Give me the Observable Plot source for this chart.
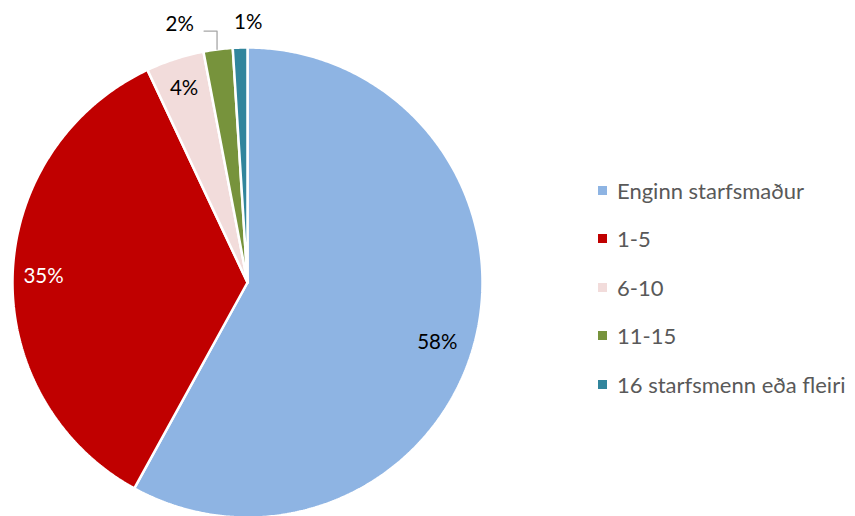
<!DOCTYPE html>
<html>
<head>
<meta charset="utf-8">
<script src="https://cdn.jsdelivr.net/npm/d3@7"></script>
<script src="https://cdn.jsdelivr.net/npm/@observablehq/plot@0.6"></script>
<style>
  html, body { margin: 0; padding: 0; background: #fff; }
  #wrap { position: relative; width: 855px; height: 516px; overflow: hidden; font-family: Lato, "Open Sans", sans-serif; }
  #legend { position: absolute; left: 598px; top: 166px; }
  .item { display: flex; align-items: center; height: 48.5px; font-size: 22px; color: #595959; }
  .sw { width: 9px; height: 9px; margin-right: 10px; }
</style>
</head>
<body>
<div id="wrap"><div id="chart"></div><div id="legend"></div></div>
<script>
const categories = ["Enginn starfsmaður", "1-5", "6-10", "11-15", "16 starfsmenn eða fleiri"];
const values = [58, 35, 4, 2, 1];
const labels = ["58%", "35%", "4%", "2%", "1%"];
const colors = ["#8EB4E3", "#C00000", "#F2DCDB", "#77933C", "#31859C"];
const labelColors = ["#000", "#fff", "#000", "#000", "#000"];

const rows = categories.map((c, i) => ({category: c, value: values[i], label: labels[i], color: colors[i], textColor: labelColors[i]}));
const arcs = d3.pie().sort(null).value(d => d.value)(rows);

function slicePoints(a) {
  const pts = [{x: 0, y: 0}];
  const n = Math.max(4, Math.ceil((a.endAngle - a.startAngle) / (Math.PI / 360)));
  for (let k = 0; k <= n; k++) {
    const t = a.startAngle + (a.endAngle - a.startAngle) * k / n;
    pts.push({x: Math.sin(t), y: Math.cos(t)});
  }
  pts.push({x: 0, y: 0});
  return pts;
}

const marks = arcs.map(a => Plot.line(slicePoints(a), {
  x: "x", y: "y", fill: a.data.color, stroke: "#fff", strokeWidth: 2.5, strokeLinejoin: "miter", curve: "linear"
}));

// label positions from mid angles (Excel-like nudges)
const nudges = [{dx: -6, dy: 10}, {dx: -2, dy: 0}, {dx: -1, dy: -2}];
const inside = [], outside = [];
arcs.forEach((a, i) => {
  const m = (a.startAngle + a.endAngle) / 2;
  if (a.data.value >= 3) {
    inside.push({x: 0.86 * Math.sin(m), y: 0.86 * Math.cos(m), label: a.data.label, c: a.data.textColor, ...nudges[i]});
  } else {
    outside.push({x: 1.115 * Math.sin(m), y: 1.115 * Math.cos(m), label: a.data.label, c: a.data.textColor, dx: i === 3 ? -35 : 9, m});
  }
});

// leader line for the small 2% slice
const small = outside[0];
const ex = Math.sin(small.m), ey = Math.cos(small.m);
const leader = [
  {x: ex - 14 / 235, y: 1.07},
  {x: ex - 1 / 235, y: 1.07},
  {x: ex - 1 / 235, y: ey}
];

marks.push(Plot.line(leader, {x: "x", y: "y", stroke: "#A6A6A6", strokeWidth: 1.3}));
inside.forEach(d => marks.push(Plot.text([d], {x: "x", y: "y", text: "label", fill: d.c, fontSize: 20.5, dx: d.dx, dy: d.dy})));
outside.forEach(d => marks.push(Plot.text([d], {x: "x", y: "y", text: "label", fill: "#000", fontSize: 20.5, dx: d.dx, dy: 2})));

const chart = Plot.plot({
  width: 855,
  height: 516,
  margin: 0,
  x: {domain: [-1, 1], range: [12, 482], axis: null},
  y: {domain: [-1, 1], range: [517, 47], axis: null},
  style: {fontFamily: "Lato, 'Open Sans', sans-serif", background: "transparent", overflow: "visible"},
  marks
});
document.getElementById("chart").appendChild(chart);

const legend = document.getElementById("legend");
rows.forEach(r => {
  const it = document.createElement("div");
  it.className = "item";
  const sw = document.createElement("div");
  sw.className = "sw";
  sw.style.background = r.color;
  const tx = document.createElement("span");
  tx.textContent = r.category;
  it.appendChild(sw);
  it.appendChild(tx);
  legend.appendChild(it);
});
</script>
</body>
</html>
